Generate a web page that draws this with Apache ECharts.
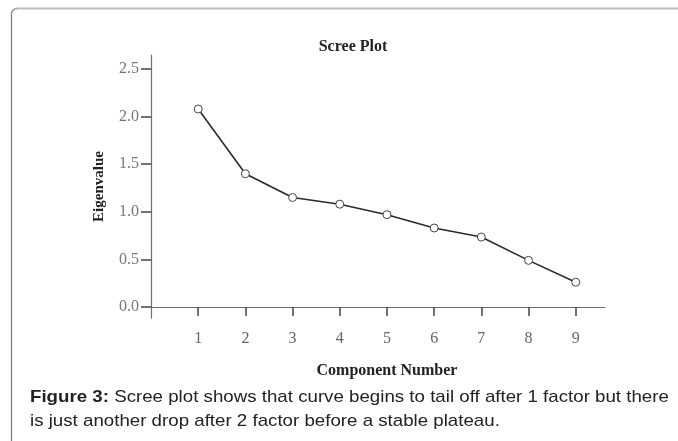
<!DOCTYPE html>
<html>
<head>
<meta charset="utf-8">
<script src="https://cdn.jsdelivr.net/npm/echarts@6/dist/echarts.min.js"></script>
<style>
html,body{margin:0;padding:0;background:#fff;}
#chart{width:678px;height:441px;}
</style>
</head>
<body>
<div id="chart"></div>
<script>
const components = [1, 2, 3, 4, 5, 6, 7, 8, 9];
const eigenvalues = [2.08, 1.40, 1.15, 1.08, 0.97, 0.83, 0.735, 0.49, 0.26];
const yTicks = [0, 0.5, 1.0, 1.5, 2.0, 2.5];
const xTicks = [1, 2, 3, 4, 5, 6, 7, 8, 9];
const chartTitle = 'Scree Plot';
const xName = 'Component Number';
const yName = 'Eigenvalue';
const captionBold = 'Figure 3:';
const captionLine1 = ' Scree plot shows that curve begins to tail off after 1 factor but there';
const captionLine2 = 'is just another drop after 2 factor before a stable plateau.';

const serif = '"Liberation Serif", "DejaVu Serif", serif';
const sans = '"Liberation Sans", Arial, sans-serif';
const axisColor = '#6e6e6e';

const chart = echarts.init(document.getElementById('chart'), null, {renderer: 'canvas'});
chart.setOption({
  backgroundColor: '#fff',
  animation: false,
  title: [
    {text: chartTitle, left: 348, top: 34, textAlign: 'center',
     textStyle: {fontFamily: serif, fontWeight: 'bold', fontSize: 16, color: '#222'}},
    {text: xName, left: 382, top: 358, textAlign: 'center',
     textStyle: {fontFamily: serif, fontWeight: 'bold', fontSize: 16, color: '#222'}}
  ],
  grid: {left: 151, top: 55, width: 454, height: 263, containLabel: false},
  xAxis: {
    type: 'value', min: 0, max: 9.62,
    axisLine: {show: true, lineStyle: {color: axisColor, width: 1.2}},
    axisTick: {show: true, length: 9, customValues: xTicks, lineStyle: {color: '#444', width: 1.5}},
    axisLabel: {customValues: xTicks, margin: 13, fontFamily: serif, fontSize: 16, color: '#666'},
    splitLine: {show: false}
  },
  yAxis: {
    type: 'value', min: -0.1155, max: 2.647,
    name: yName, nameLocation: 'middle', nameRotate: 90, nameGap: 44,
    nameTextStyle: {fontFamily: serif, fontWeight: 'bold', fontSize: 15, color: '#222'},
    axisLine: {show: true, lineStyle: {color: axisColor, width: 1.2}},
    axisTick: {show: true, length: 10, customValues: yTicks, lineStyle: {color: '#444', width: 1.5}},
    axisLabel: {customValues: yTicks, margin: 12, fontFamily: serif, fontSize: 16, color: '#777',
      formatter: v => v.toFixed(1)},
    splitLine: {show: false}
  },
  series: [{
    type: 'line',
    data: components.map((c, i) => [c, eigenvalues[i]]),
    symbol: 'circle', symbolSize: 8,
    itemStyle: {color: '#fff', borderColor: '#444', borderWidth: 1},
    lineStyle: {color: '#2a2a2a', width: 1.6},
    z: 3
  }],
  graphic: [
    {type: 'line', shape: {x1: 17, y1: 8.5, x2: 678, y2: 8.5}, style: {stroke: '#bdbdbd', lineWidth: 2}},
    {type: 'arc', shape: {cx: 17, cy: 14, r: 5.5, startAngle: Math.PI, endAngle: Math.PI * 1.5},
     style: {stroke: '#9a9a9a', lineWidth: 1.5, fill: null}},
    {type: 'line', shape: {x1: 11.5, y1: 14, x2: 11.5, y2: 441}, style: {stroke: '#7a7a7a', lineWidth: 1.2}},
    {type: 'text', x: 30, y: 389, scaleX: 1.1, scaleY: 1, style: {
      text: '{b|' + captionBold + '}{r|' + captionLine1 + '}',
      rich: {
        b: {fontFamily: sans, fontWeight: 'bold', fontSize: 17, fill: '#222'},
        r: {fontFamily: sans, fontSize: 17, fill: '#222'}
      }
    }},
    {type: 'text', x: 30, y: 413, scaleX: 1.1, scaleY: 1, style: {
      text: captionLine2,
      font: '17px ' + sans, fill: '#222'
    }}
  ]
});
</script>
</body>
</html>
